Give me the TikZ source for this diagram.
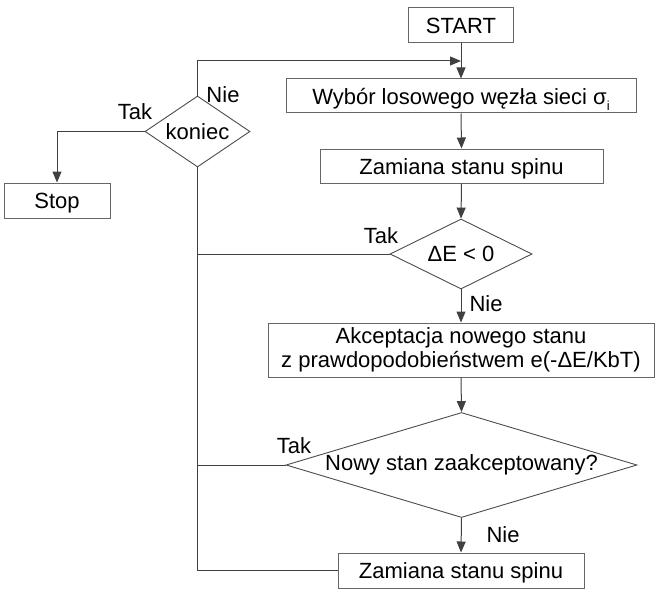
\documentclass[tikz,border=0pt]{standalone}
\usepackage{fontspec}
\setmainfont{Liberation Sans}
\usetikzlibrary{shapes.geometric,arrows.meta}
\begin{document}
\begin{tikzpicture}[x=1pt,y=-1pt,
  every node/.style={font=\fontsize{22}{24}\selectfont, inner sep=0pt},
  box/.style={draw=black!60, line width=1pt, rectangle, align=center},
  onebox/.style={box, text height=16pt, text depth=0pt},
  decision/.style={draw=black!70, line width=0.9pt, diamond},
  lbl/.style={},
  conn/.style={draw=black!75, line width=1pt},
  arr/.style={conn, -{Triangle[length=11pt,width=9pt]}}
]
\useasboundingbox (0,0) rectangle (663,599);
\node[onebox, minimum width=105, minimum height=35] (start) at (461,25.5) {START};
\node[onebox, minimum width=350, minimum height=34] (wyb) at (461,96) {Wybór losowego węzła sieci σ\raisebox{-6pt}{\fontsize{13}{13}\selectfont i}};
\node[onebox, minimum width=283, minimum height=34] (zam1) at (461.5,166) {Zamiana stanu spinu};
\node[decision, aspect=2.03, minimum width=142, minimum height=70] (de) at (461,254) {ΔE < 0};
\node[box, minimum width=386, minimum height=54] (akc) at (461,350) {Akceptacja nowego stanu\\z prawdopodobieństwem e(-ΔE/KbT)};
\node[decision, aspect=3.34, minimum width=351, minimum height=105] (nowy) at (461.5,465) {Nowy stan zaakceptowany?};
\node[onebox, minimum width=246, minimum height=35] (zam2) at (461,570.5) {Zamiana stanu spinu};
\node[decision, aspect=1.48, minimum width=105, minimum height=71] (kon) at (197.5,131.5) {koniec};
\node[onebox, minimum width=106, minimum height=35] (stop) at (57,200.5) {Stop};
\coordinate (j) at (461,61);

\node[lbl] (t1) at (381,236) {Tak};
\node[lbl] (n1) at (486,304) {Nie};
\node[lbl] (t2) at (294,446) {Tak};
\node[lbl] (n2) at (503,535) {Nie};
\node[lbl] (n0) at (223,95) {Nie};
\node[lbl] (t0) at (135,112) {Tak};

\draw[arr] (start.south) -- (wyb.north);
\draw[arr] (wyb.south) -- (zam1.north);
\draw[arr] (zam1.south) -- (de.north);
\draw[arr] (de.south) -- (akc.north);
\draw[arr] (akc.south) -- (nowy.north);
\draw[arr] (nowy.south) -- (zam2.north);
\draw[conn] (zam2.west) -| (kon.south);
\draw[conn] (de.west) -- (de.west -| kon.south);
\draw[conn] (nowy.west) -- (nowy.west -| kon.south);
\draw[arr] (kon.north) |- (j);
\draw[arr] (kon.west) -| (stop.north);
\end{tikzpicture}
\end{document}
